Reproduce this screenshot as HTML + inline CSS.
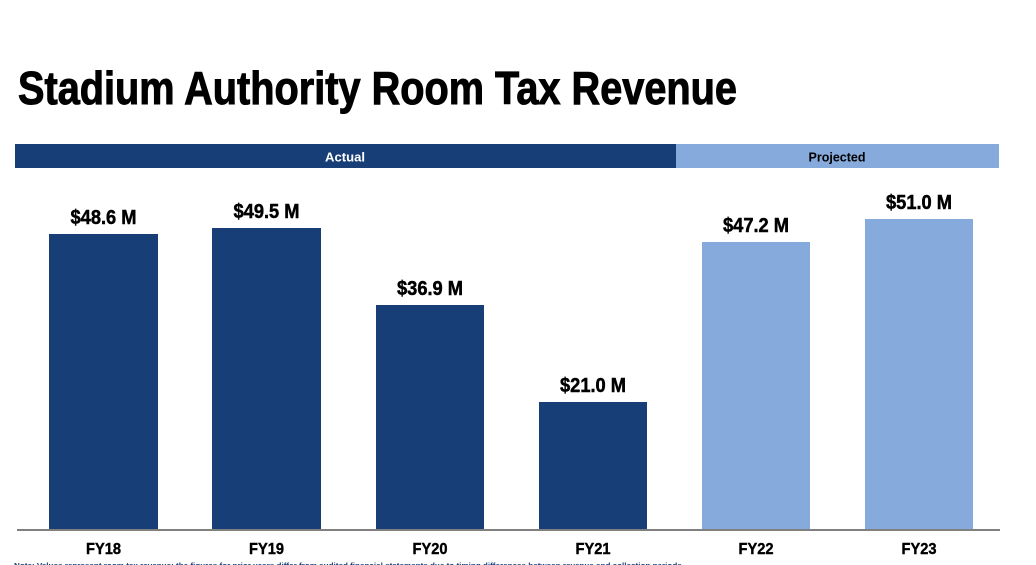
<!DOCTYPE html>
<html><head><meta charset="utf-8"><style>
html,body{margin:0;padding:0;background:#fff;width:1036px;height:565px;overflow:hidden}
svg{display:block}
text{font-family:"Liberation Sans",sans-serif;font-weight:bold}
</style></head><body>
<svg width="1036" height="565" viewBox="0 0 1036 565" xmlns="http://www.w3.org/2000/svg">
<text x="18" y="104" font-size="46" fill="#000" stroke="#000" stroke-width="1" textLength="719" lengthAdjust="spacingAndGlyphs">Stadium Authority Room Tax Revenue</text>
<rect x="15" y="144" width="661" height="24" fill="#173e76"/>
<rect x="676" y="144" width="323" height="24" fill="#86aadc"/>
<text x="345" y="161.5" font-size="13" fill="#fff" text-anchor="middle" textLength="40" lengthAdjust="spacingAndGlyphs">Actual</text>
<text x="837" y="161.5" font-size="13" fill="#000" text-anchor="middle" textLength="57" lengthAdjust="spacingAndGlyphs">Projected</text>
<g fill="#173e76">
<rect x="49" y="234" width="109" height="296"/>
<rect x="212" y="228" width="109" height="302"/>
<rect x="376" y="305" width="108" height="225"/>
<rect x="539" y="402" width="108" height="128"/>
</g>
<g fill="#86aadc">
<rect x="702" y="242" width="108" height="288"/>
<rect x="865" y="219" width="108" height="311"/>
</g>
<line x1="17" y1="530" x2="1000" y2="530" stroke="#808080" stroke-width="2"/>
<g font-size="20" fill="#000" stroke="#000" stroke-width="0.5" text-anchor="middle">
<text x="103.5" y="224" textLength="66" lengthAdjust="spacingAndGlyphs">$48.6 M</text>
<text x="266.5" y="218" textLength="66" lengthAdjust="spacingAndGlyphs">$49.5 M</text>
<text x="430" y="295" textLength="66" lengthAdjust="spacingAndGlyphs">$36.9 M</text>
<text x="593" y="392" textLength="66" lengthAdjust="spacingAndGlyphs">$21.0 M</text>
<text x="756" y="232" textLength="66" lengthAdjust="spacingAndGlyphs">$47.2 M</text>
<text x="919" y="209" textLength="66" lengthAdjust="spacingAndGlyphs">$51.0 M</text>
</g>
<g font-size="16" fill="#000" stroke="#000" stroke-width="0.4" text-anchor="middle">
<text x="103.5" y="554" textLength="35" lengthAdjust="spacingAndGlyphs">FY18</text>
<text x="266.5" y="554" textLength="35" lengthAdjust="spacingAndGlyphs">FY19</text>
<text x="430" y="554" textLength="35" lengthAdjust="spacingAndGlyphs">FY20</text>
<text x="593" y="554" textLength="35" lengthAdjust="spacingAndGlyphs">FY21</text>
<text x="756" y="554" textLength="35" lengthAdjust="spacingAndGlyphs">FY22</text>
<text x="919" y="554" textLength="35" lengthAdjust="spacingAndGlyphs">FY23</text>
</g>
<text x="14" y="568" font-size="7" font-weight="normal" fill="#173e76" textLength="670" lengthAdjust="spacingAndGlyphs">Note: Values represent room tax revenue; the figures for prior years differ from audited financial statements due to timing differences between revenue and collection periods.</text>
</svg>
</body></html>
